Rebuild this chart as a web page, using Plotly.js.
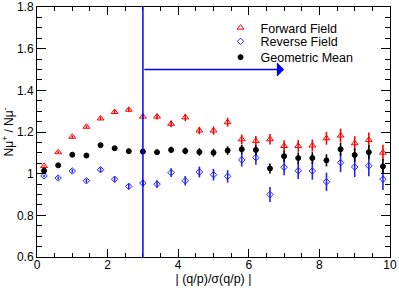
<!DOCTYPE html>
<html>
<head>
<meta charset="utf-8">
<script src="https://cdn.plot.ly/plotly-3.0.1.min.js"></script>
<style>html,body{margin:0;padding:0;background:#fff;}#chart{width:399px;height:295px;}</style>
</head>
<body>
<div id="chart"></div>
<script>
const xBins = [0.2,0.6,1.0,1.4,1.8,2.2,2.6,3.0,3.4,3.8,4.2,4.6,5.0,5.4,5.8,6.2,6.6,7.0,7.4,7.8,8.2,8.6,9.0,9.4,9.8];
const forwardVals = [1.037,1.103,1.177,1.225,1.265,1.296,1.307,1.274,1.274,1.239,1.270,1.207,1.207,1.247,1.165,1.157,1.165,1.133,1.133,1.135,1.170,1.183,1.146,1.162,1.101];
const forwardErr  = [0.004,0.005,0.006,0.007,0.008,0.009,0.010,0.012,0.014,0.016,0.017,0.018,0.020,0.021,0.023,0.024,0.025,0.027,0.028,0.029,0.031,0.033,0.034,0.036,0.038];
const reverseVals = [0.989,0.979,1.013,0.966,1.019,0.973,0.939,0.955,0.950,1.005,0.966,1.008,0.995,0.987,1.066,1.077,0.900,1.031,1.014,1.013,0.961,1.053,1.032,1.038,0.974];
const reverseErr  = [0.006,0.007,0.008,0.009,0.011,0.012,0.014,0.016,0.018,0.021,0.023,0.026,0.028,0.030,0.032,0.034,0.036,0.038,0.040,0.042,0.044,0.046,0.048,0.050,0.052];
const meanVals    = [1.014,1.040,1.091,1.087,1.137,1.122,1.108,1.106,1.103,1.114,1.109,1.104,1.101,1.111,1.117,1.114,1.025,1.084,1.075,1.075,1.064,1.117,1.090,1.103,1.035];
const meanErr     = [0.004,0.005,0.006,0.007,0.008,0.009,0.010,0.011,0.013,0.015,0.016,0.018,0.019,0.020,0.022,0.023,0.024,0.025,0.027,0.028,0.029,0.031,0.032,0.034,0.036];
const seriesNames = ["Forward Field","Reverse Field","Geometric Mean"];
const cutValue = [3];
const arrowEnd = [7];
const arrowLevel = [1.5];

const font = "Liberation Sans, Arial, Helvetica, sans-serif";

function trace(name, y, err, color, symbol, size, legendId){
  return {
    x: xBins, y: y, name: name, type: 'scatter', mode: 'markers', legend: legendId,
    marker: {color: color, symbol: symbol, size: size, line: {color: color, width: 1}},
    error_y: {type: 'data', array: err, visible: true, color: color, thickness: 1.6, width: 0}
  };
}

const data = [
  trace(seriesNames[0], forwardVals, forwardErr, '#ff0000', 'triangle-up-open', 6, 'legend'),
  trace(seriesNames[1], reverseVals, reverseErr, '#2020ff', 'diamond-open', 5, 'legend2'),
  trace(seriesNames[2], meanVals, meanErr, '#000000', 'circle', 5, 'legend3')
];

const axisCommon = {
  showline: true, linecolor: '#000', linewidth: 1, mirror: 'ticks',
  ticks: 'inside', tickcolor: '#000', tickwidth: 1,
  showgrid: false, zeroline: false,
  tickfont: {family: font, size: 12, color: '#000'}
};

function legendAt(yPos){
  return {x: 0.52, y: yPos, xanchor: 'left', yanchor: 'middle', bgcolor: 'rgba(0,0,0,0)',
          font: {family: font, size: 12.5, color: '#000'}, borderwidth: 0};
}

const layout = {
  width: 399, height: 295,
  margin: {l: 37, r: 9, t: 7, b: 38},
  paper_bgcolor: '#fff', plot_bgcolor: '#fff',
  font: {family: font, color: '#000'},
  showlegend: true,
  legend: legendAt(0.916),
  legend2: legendAt(0.861),
  legend3: legendAt(0.798),
  xaxis: Object.assign({}, axisCommon, {
    range: [0, 10], dtick: 2, ticklen: 8, ticklabelstandoff: -3,
    minor: {ticks: 'inside', dtick: 0.5, ticklen: 4, tickcolor: '#000'},
    title: {text: '| (q/p)/σ(q/p) |', font: {family: font, size: 12.5}, standoff: 0}
  }),
  yaxis: Object.assign({}, axisCommon, {
    range: [0.6, 1.8], dtick: 0.2, ticklen: 9,
    minor: {ticks: 'inside', dtick: 0.05, ticklen: 5, tickcolor: '#000'},
    title: {text: 'Nμ<sup>+</sup> / Nμ<sup>-</sup>', font: {family: font, size: 12}, standoff: 4}
  }),
  shapes: [{
    type: 'line', xref: 'x', yref: 'y', x0: cutValue[0], x1: cutValue[0], y0: 0.6, y1: 1.8,
    line: {color: '#0000ff', width: 1.5}, layer: 'above'
  }],
  annotations: [{
    xref: 'x', yref: 'y', axref: 'x', ayref: 'y',
    x: arrowEnd[0], y: arrowLevel[0], ax: cutValue[0], ay: arrowLevel[0],
    text: '', showarrow: true, arrowhead: 1, arrowsize: 1.6, arrowwidth: 1.5, arrowcolor: '#0000ff'
  }]
};

Plotly.newPlot('chart', data, layout, {displayModeBar: false, staticPlot: true});
</script>
</body>
</html>
